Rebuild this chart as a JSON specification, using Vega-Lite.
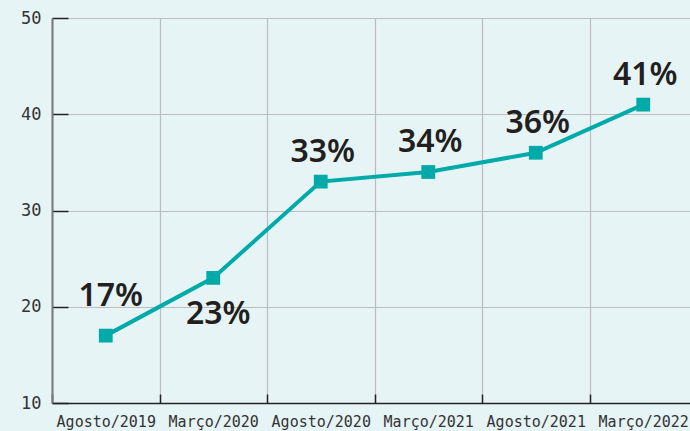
{
  "$schema": "https://vega.github.io/schema/vega-lite/v6.json",
  "autosize": "none",
  "width": 645,
  "height": 385,
  "padding": {"left": 52, "top": 18, "right": 0, "bottom": 28},
  "background": "#e6f4f5",
  "config": {"view": {"stroke": null}},
  "data": {"values": [
    {"period": "Agosto/2019", "value": 17, "label": "17%"},
    {"period": "Março/2020", "value": 23, "label": "23%"},
    {"period": "Agosto/2020", "value": 33, "label": "33%"},
    {"period": "Março/2021", "value": 34, "label": "34%"},
    {"period": "Agosto/2021", "value": 36, "label": "36%"},
    {"period": "Março/2022", "value": 41, "label": "41%"}
  ]},
  "encoding": {
    "x": {"field": "period", "type": "ordinal", "sort": null, "title": null,
      "scale": {"paddingInner": 0, "paddingOuter": 0},
      "axis": {"labelAngle": 0, "labelFont": "DejaVu Sans Mono", "labelFontSize": 15, "labelColor": "#333333",
        "labelPadding": 20, "tickBand": "extent", "tickSize": -9, "tickColor": "#222222", "tickWidth": 1.5,
        "grid": true, "gridColor": "#bdbdbd", "gridWidth": 1.2, "domainColor": "#222222", "domainWidth": 1.5}},
    "y": {"field": "value", "type": "quantitative", "title": null,
      "scale": {"domain": [10, 50]},
      "axis": {"values": [10, 20, 30, 40, 50], "labelFont": "DejaVu Sans Mono", "labelFontSize": 17, "labelColor": "#333333",
        "labelPadding": 27, "tickSize": -16, "tickColor": "#222222", "tickWidth": 1.5,
        "grid": true, "gridColor": "#bdbdbd", "gridWidth": 1.2, "domainColor": "#777777", "domainWidth": 2}}
  },
  "layer": [
    {"mark": {"type": "line", "color": "#00aaa9", "strokeWidth": 4}},
    {"mark": {"type": "square", "color": "#00aaa9", "size": 190, "opacity": 1, "filled": true}},
    {"transform": [{"filter": "datum.value != 23 && datum.value != 17"}],
     "mark": {"type": "text", "font": "Noto Sans", "fontSize": 32, "fontWeight": 600, "color": "#231f20", "dy": -30, "dx": 2},
     "encoding": {"text": {"field": "label"}}},
    {"transform": [{"filter": "datum.value == 17"}],
     "mark": {"type": "text", "font": "Noto Sans", "fontSize": 32, "fontWeight": 600, "color": "#231f20", "dy": -40, "dx": 5},
     "encoding": {"text": {"field": "label"}}},
    {"transform": [{"filter": "datum.value == 23"}],
     "mark": {"type": "text", "font": "Noto Sans", "fontSize": 32, "fontWeight": 600, "color": "#231f20", "dy": 36, "dx": 5},
     "encoding": {"text": {"field": "label"}}}
  ]
}
